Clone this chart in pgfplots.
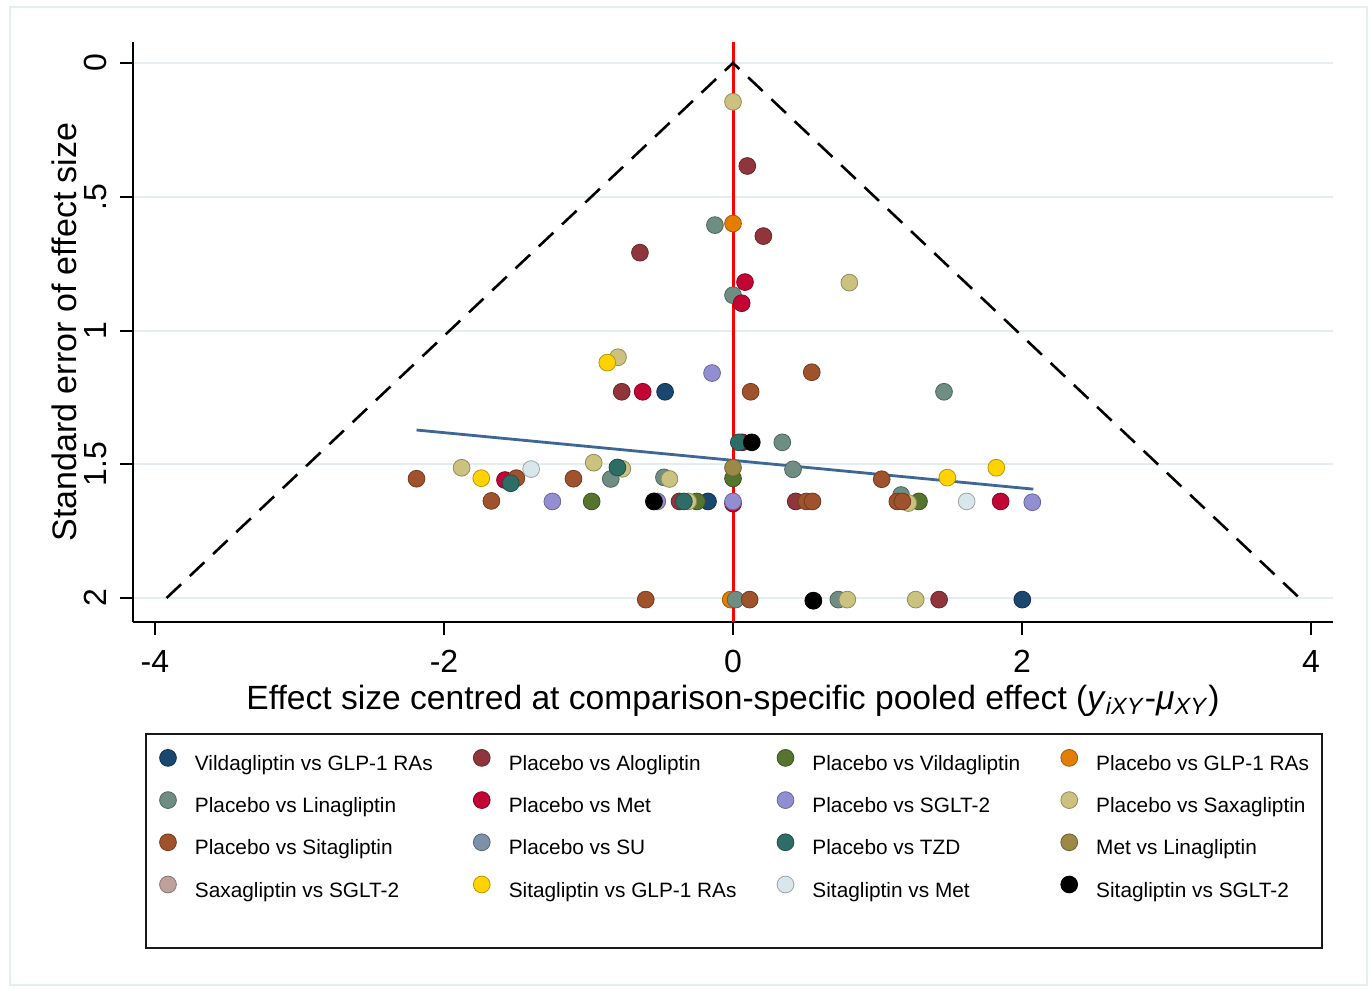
\documentclass[border=0pt]{standalone}
\usepackage{fontspec}
\setmainfont{Liberation Sans}
\usepackage{pgfplots}
\pgfplotsset{compat=1.18}
\definecolor{cnavy}{HTML}{1A476F}
\definecolor{cmaroon}{HTML}{90353B}
\definecolor{cforest}{HTML}{55752F}
\definecolor{cdkorange}{HTML}{E37E00}
\definecolor{cteal}{HTML}{6E8E84}
\definecolor{ccranberry}{HTML}{C10534}
\definecolor{clavender}{HTML}{938DD2}
\definecolor{ckhaki}{HTML}{CAC27E}
\definecolor{csienna}{HTML}{A0522D}
\definecolor{cemidblue}{HTML}{7B92A8}
\definecolor{cemerald}{HTML}{2D6D66}
\definecolor{cbrown}{HTML}{9C8847}
\definecolor{cerose}{HTML}{BFA19C}
\definecolor{cgold}{HTML}{FFD200}
\definecolor{cbluishgray}{HTML}{D9E6EB}
\definecolor{gridc}{HTML}{E4EDEF}
\definecolor{regc}{HTML}{3D6794}
\pgfplotsset{dot/.style={only marks, mark=*, mark size=4.2pt, draw=#1!72!black, fill=#1, line width=0.4pt}}
\begin{document}
\begin{tikzpicture}
\useasboundingbox (0,0) rectangle (685pt,-494.5pt);
\draw[gridc, line width=1pt] (5pt,-3.5pt) rectangle (683.5pt,-492.5pt);
\begin{axis}[
  name=ax, at={(66.5pt,-311pt)}, anchor=south west,
  scale only axis, width=600pt, height=290pt,
  xmin=-4.152, xmax=4.152, ymin=-2.0897, ymax=0.0785,
  y filter/.expression={-y},
  clip=false,
  axis x line*=bottom, axis y line*=left,
  axis line style={-, line width=1pt, black},
  xtick={-4,-2,0,2,4}, xticklabels={-4,-2,0,2,4},
  ytick={-2,-1.5,-1,-0.5,0}, yticklabels={2,1.5,1,.5,0},
  tick align=outside, major tick length=6.5pt,
  tick style={line width=1pt, black},
  ymajorgrids, major grid style={line width=1pt, color=gridc},
  tick label style={font=\fontsize{16}{19}\selectfont},
  xticklabel style={yshift=-4pt},
  yticklabel style={rotate=90, anchor=south, yshift=3pt},
  xlabel={Effect size centred at comparison-specific pooled effect (\textit{y}\textsubscript{\textit{iXY}}-\textit{μ}\textsubscript{\textit{XY}})},
  xlabel style={at={(axis description cs:0.5,-0.15)}, anchor=base, font=\fontsize{16.8}{20}\selectfont},
  ylabel={Standard error of effect size},
  ylabel style={at={(axis description cs:-0.0467,0.5)}, anchor=base, font=\fontsize{17}{20}\selectfont},
  legend columns=4,
  legend cell align=left,
  legend style={at={(axis description cs:0.02083,-0.2198)}, anchor=north west, draw=none, fill=none,
    inner sep=0pt, outer sep=0pt, font=\fontsize{10.4}{12}\selectfont, row sep=8.35pt,
    nodes={inner sep=0pt, text height=7.5pt, text depth=2.2pt},
    /tikz/every odd column/.append style={column sep=8.5pt},
    /tikz/every even column/.append style={column sep=19.5pt}},
  legend image code/.code={\draw[#1] plot coordinates {(0pt,3.7pt)}; \path[draw=none] (-5pt,3.7pt) (5pt,3.7pt);},
]
% reference lines
\addplot[forget plot, red, line width=1.5pt] coordinates {(0,-0.0785) (0,2.0897)};
\addplot[forget plot, black, line width=1.3pt, dash pattern=on 10pt off 6pt] coordinates {(-3.92,2) (0,0) (3.92,2)};
% series
\addplot[dot=cnavy] coordinates {(-0.47,1.229) (-0.173,1.639) (2.002,2.006)};
\addlegendentry{Vildagliptin vs GLP-1 RAs}
\addplot[dot=cmaroon] coordinates {(0.099,0.385) (0.21,0.647) (-0.644,0.709) (-0.77,1.229) (-0.37,1.639) (0.434,1.639) (1.426,2.006)};
\addlegendentry{Placebo vs Alogliptin}
\addplot[dot=cforest] coordinates {(0,1.553) (-0.978,1.639) (-0.25,1.639) (1.287,1.639)};
\addlegendentry{Placebo vs Vildagliptin}
\addplot[dot=cdkorange] coordinates {(0,0.60) (-0.016,2.006)};
\addlegendentry{Placebo vs GLP-1 RAs}
\addplot[dot=cteal] coordinates {(-0.125,0.606) (0,0.868) (1.46,1.229) (0.341,1.418) (0.415,1.519) (-0.846,1.555) (-0.478,1.549) (0.018,2.006) (0.729,2.006) (1.163,1.615)};
\addlegendentry{Placebo vs Linagliptin}
\addplot[dot=ccranberry] coordinates {(0.083,0.819) (0.06,0.898) (-0.625,1.229) (0.063,1.418) (-1.578,1.559) (0,1.647) (1.852,1.639)};
\addlegendentry{Placebo vs Met}
\addplot[dot=clavender] coordinates {(-0.145,1.159) (-1.25,1.639) (-0.524,1.639) (0,1.639) (2.071,1.642)};
\addlegendentry{Placebo vs SGLT-2}
\addplot[dot=ckhaki] coordinates {(0,0.145) (0.805,0.821) (-0.796,1.100) (-1.878,1.513) (-0.964,1.494) (-0.766,1.517) (-0.44,1.555) (-0.31,1.639) (1.213,1.645) (0.791,2.006) (1.264,2.006)};
\addlegendentry{Placebo vs Saxagliptin}
\addplot[dot=csienna] coordinates {(0.122,1.229) (0.545,1.156) (1.029,1.556) (-2.19,1.554) (-1.499,1.552) (-1.104,1.554) (-1.672,1.637) (0.508,1.639) (0.55,1.639) (1.137,1.639) (1.172,1.639) (-0.604,2.006) (0.115,2.006)};
\addlegendentry{Placebo vs Sitagliptin}
\addplot[dot=cemidblue] coordinates {(0.556,2.010)};
\addlegendentry{Placebo vs SU}
\addplot[dot=cemerald] coordinates {(0.04,1.418) (-1.538,1.571) (-0.34,1.639) (-0.80,1.512)};
\addlegendentry{Placebo vs TZD}
\addplot[dot=cbrown] coordinates {(0,1.513)};
\addlegendentry{Met vs Linagliptin}
\addplot[dot=cerose] coordinates {(-0.547,1.639)};
\addlegendentry{Saxagliptin vs SGLT-2}
\addplot[dot=cgold] coordinates {(-0.87,1.120) (-1.742,1.552) (1.483,1.55) (1.822,1.513)};
\addlegendentry{Sitagliptin vs GLP-1 RAs}
\addplot[dot=cbluishgray] coordinates {(-1.397,1.518) (1.617,1.639)};
\addlegendentry{Sitagliptin vs Met}
\addplot[dot=black] coordinates {(0.13,1.418) (-0.547,1.639) (0.556,2.010)};
\addlegendentry{Sitagliptin vs SGLT-2}
% regression line
\addplot[forget plot, regc, line width=1.4pt] coordinates {(-2.19,1.372) (2.078,1.593)};
% legend frame
\draw[line width=1pt, black!90] (axis description cs:0.01083,-0.1931) rectangle (axis description cs:0.99083,-0.5621);
\end{axis}
\end{tikzpicture}
\end{document}
